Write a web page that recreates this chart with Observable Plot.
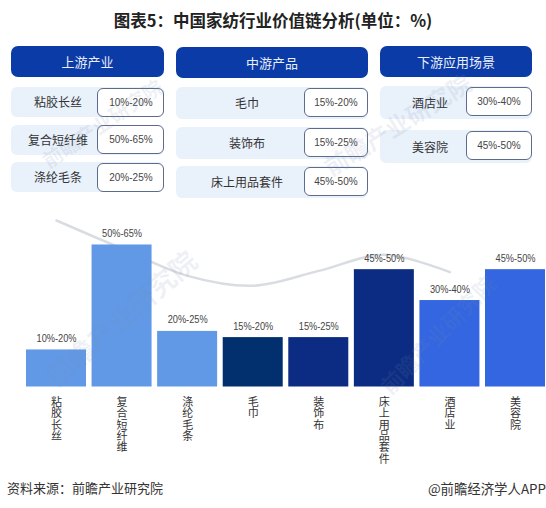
<!DOCTYPE html>
<html><head><meta charset="utf-8">
<script src="https://cdn.jsdelivr.net/npm/d3@7"></script>
<script src="https://cdn.jsdelivr.net/npm/@observablehq/plot@0.6"></script>
<style>
html,body{margin:0;padding:0;background:#fff}
body{position:relative;width:546px;height:508px;overflow:hidden;font-family:"Noto Sans CJK SC","Noto Sans",sans-serif;color:#333}
#title{position:absolute;left:0;width:546px;top:9px;text-align:center;font-size:16.5px;font-weight:700;line-height:22px;color:#222}
.col{position:absolute;top:46px;display:flex;flex-direction:column}
.c0{left:11px;width:153px}.c1{left:176px;width:192px;top:47px}.c2{left:380px;width:152px}
.hdr{height:31px;line-height:31px;background:#0b3ba6;color:#e8eefc;border-radius:7px;text-align:center;font-size:13px;margin-bottom:10px}
.c1 .hdr{margin-bottom:9px}.c2 .hdr{margin-bottom:8.5px}
.row{position:relative;height:30px;background:#e9f1fb;border-radius:6px;font-size:12px;line-height:30px;margin-bottom:7.5px}
.c1 .row{height:32px;line-height:32px;margin-bottom:7.5px}
.c2 .row{height:33px;line-height:33px;margin-bottom:11px}
.name{position:absolute;left:0;text-align:center}
.c0 .name{width:94px}.c1 .name{width:142px}.c2 .name{width:100px}
.pill{position:absolute;right:0;top:.5px;box-sizing:border-box;height:29px;line-height:27px;background:#fff;border:1.3px solid #5c6c8c;border-radius:6px;text-align:center;font-family:"Liberation Sans",sans-serif;font-size:11.5px;color:#444}
.pill span{display:inline-block;transform:scaleX(.87)}
.c0 .pill{width:67px}.c1 .pill{width:64px;top:1px}.c2 .pill{width:66px;top:1.5px}
#chart{position:absolute;left:0;top:205px}
#chart svg{display:block;background:transparent}
.foot{position:absolute;top:478px;font-size:13px;line-height:20px;color:#333}
#app{font-size:13.4px}
.wm{position:absolute;color:rgba(120,140,175,.13);font-weight:700;white-space:nowrap;transform-origin:left bottom;pointer-events:none}
</style></head><body>
<div id="title"></div>
<div id="cards"></div>
<div id="chart"></div>
<div class="foot" id="src" style="left:7px"></div>
<div class="foot" id="app" style="right:0"></div>
<script>
const chartTitle = "图表5：中国家纺行业价值链分析(单位：%)";
const stageNames = ["上游产业", "中游产品", "下游应用场景"];
const upstream = ["粘胶长丝", "复合短纤维", "涤纶毛条"];
const midstream = ["毛巾", "装饰布", "床上用品套件"];
const downstream = ["酒店业", "美容院"];
const categories = [...upstream, ...midstream, ...downstream];
const rangeLabels = ["10%-20%", "50%-65%", "20%-25%", "15%-20%", "15%-25%", "45%-50%", "30%-40%", "45%-50%"];
const barValues = [15, 57.5, 22.5, 20, 20, 47.5, 35, 47.5];
const barGroups = ["light", "light", "light", "teal", "navy", "navy", "blue", "blue"];
const groupDomain = ["light", "teal", "navy", "blue"];
const groupColors = ["#6199e6", "#02306f", "#0b2c82", "#3366e0"];
const curveValues = [67.4, 56, 45, 41, 47, 53.5, 46.5];
const sourceText = "资料来源：前瞻产业研究院";
const appText = "@前瞻经济学人APP";
const watermark = "前瞻产业研究院";

document.getElementById("title").textContent = chartTitle;
document.getElementById("src").textContent = sourceText;
document.getElementById("app").textContent = appText;

const cards = document.getElementById("cards");
let k = 0;
[upstream, midstream, downstream].forEach((items, c) => {
  const col = document.createElement("div");
  col.className = "col c" + c;
  const h = document.createElement("div");
  h.className = "hdr"; h.textContent = stageNames[c];
  col.append(h);
  items.forEach(name => {
    const r = document.createElement("div"); r.className = "row";
    const n = document.createElement("div"); n.className = "name"; n.textContent = name;
    const p = document.createElement("div"); p.className = "pill";
    const s = document.createElement("span"); s.textContent = rangeLabels[k++];
    p.append(s);
    r.append(n, p); col.append(r);
  });
  cards.append(col);
});

const table = categories.map((name, i) => ({name, value: barValues[i], label: rangeLabels[i], group: barGroups[i]}));
const curve = categories.slice(0, curveValues.length).map((name, i) => ({name, value: curveValues[i]}));

const chart = Plot.plot({
  width: 546, height: 275,
  marginLeft: 26, marginRight: 1, marginTop: 0, marginBottom: 93.5,
  style: {fontFamily: '"Noto Sans CJK SC","Noto Sans",sans-serif', background: "transparent"},
  x: {domain: categories, paddingInner: 0.085, paddingOuter: 0, round: false, axis: null},
  y: {domain: [0, 73.48], axis: null},
  color: {domain: groupDomain, range: groupColors},
  marks: [
    Plot.line(curve, {x: "name", y: "value", curve: "catmull-rom", stroke: "#d9dde2", strokeWidth: 2.5}),
    Plot.barY(table, {x: "name", y: "value", fill: "group"}),
    Plot.text(table, {x: "name", y: "value", text: "label", dy: -11.5, fontSize: 11, fontFamily: '"Liberation Sans",sans-serif', fill: "#444", className: "rangeLabel"}),
    Plot.text(table, {x: "name", y: 0, text: "name", textAnchor: "start", dy: 6, fontSize: 11, fill: "#333", className: "catLabel"})
  ]
});
d3.select(chart).selectAll(".rangeLabel text").attr("textLength", 40).attr("lengthAdjust", "spacingAndGlyphs");
d3.select(chart).selectAll(".catLabel text")
  .style("writing-mode", "vertical-rl").style("text-orientation", "upright").style("letter-spacing", "0.3px");
document.getElementById("chart").append(chart);

[[52,165,20,-34],[62,382,27,-41],[335,172,24,-32],[395,390,22,-46]].forEach(([x,y,s,a]) => {
  const w = document.createElement("div");
  w.className = "wm"; w.textContent = watermark;
  w.style.cssText = `left:${x}px;top:${y - s}px;font-size:${s}px;transform:rotate(${a}deg)`;
  document.body.append(w);
});
</script>
</body></html>
